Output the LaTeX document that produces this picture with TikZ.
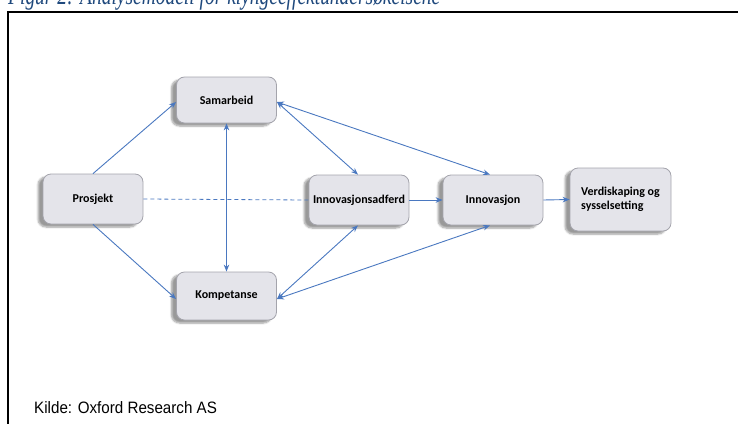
\documentclass[tikz,border=0pt]{standalone}
\usepackage{fontspec}
\setmainfont{Liberation Serif}
\newfontfamily\boxfont{Carlito}
\newfontfamily\kildefont{Liberation Sans}
\usetikzlibrary{arrows.meta,shadows,shadows.blur}
\definecolor{boxfill}{HTML}{E4E4EA}
\definecolor{boxline}{HTML}{A4A4AC}
\definecolor{arrowblue}{HTML}{4A78C0}
\definecolor{captionblue}{HTML}{1F497D}
\tikzset{
  stepbox/.style={draw=boxline, line width=0.8pt, fill=boxfill, rounded corners=8pt,
    minimum width=100pt, minimum height=50pt, inner sep=3pt,
    font=\boxfont\bfseries\fontsize{12}{14}\selectfont,
    blur shadow={shadow xshift=-5pt, shadow yshift=-3pt, shadow blur steps=6, shadow opacity=40}},
  link/.style={draw=arrowblue, line width=0.9pt, -{Stealth[length=7pt,width=5.5pt]}},
  blink/.style={draw=arrowblue, line width=0.9pt, {Stealth[length=7pt,width=5.5pt]}-{Stealth[length=7pt,width=5.5pt]}},
  dlink/.style={draw=arrowblue, line width=0.8pt, dash pattern=on 4pt off 3pt}
}
\begin{document}
\begin{tikzpicture}[x=1pt,y=-1pt]
\useasboundingbox (0,0) rectangle (738,423);
% caption (clipped at top, as in the reference)
\node[anchor=base west, inner sep=0pt, text=captionblue] (cap) at (8,5)
  {\resizebox{432pt}{19pt}{\itshape Figur 2: Analysemodell for klyngeeffektundersøkelsene}};
% frame
\draw[line width=1.3pt] (8,430) -- (8,12) -- (745,12);
% nodes
\node[stepbox] (pro) at (93,199) {Prosjekt};
\node[stepbox, minimum height=46pt] (sam) at (226.5,100) {Samarbeid};
\node[stepbox, minimum height=48pt] (kom) at (226.5,296) {Kompetanse};
\node[stepbox] (ia) at (359,200) {Innovasjonsadferd};
\node[stepbox] (inn) at (493,200) {Innovasjon};
\node[stepbox, minimum width=101pt, minimum height=63pt, align=left] (ver) at (620.5,199.5) {Verdiskaping og\\sysselsetting};
% connectors
\draw[link] (pro.north) -- ([yshift=-2pt]sam.west);
\draw[link] (pro.south) -- ([yshift=-3pt]kom.west);
\draw[blink] (sam.south) -- (kom.north);
\draw[blink] ([yshift=-2pt]sam.east) -- ([xshift=-1pt]ia.north);
\draw[blink] ([yshift=-2pt]sam.east) -- ([xshift=-3pt]inn.north);
\draw[blink] ([yshift=-3pt]kom.east) -- ([xshift=-1pt]ia.south);
\draw[blink] ([yshift=-3pt]kom.east) -- ([xshift=-3pt]inn.south);
\draw[dlink] (pro.east) -- (ia.west);
\draw[link] (ia.east) -- (inn.west);
\draw[link] (inn.east) -- (ver.west);
% source
\node[anchor=base west, inner sep=0pt] (kilde) at (34,413)
  {\kildefont\fontsize{16.5}{18}\selectfont\scalebox{0.92}[1]{Kilde: Oxford Research AS}};
\end{tikzpicture}
\end{document}
